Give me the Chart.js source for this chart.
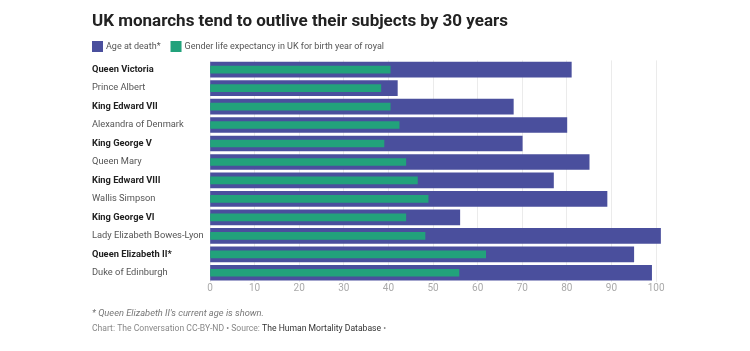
<!DOCTYPE html>
<html>
<head>
<meta charset="utf-8">
<script src="https://cdn.jsdelivr.net/npm/chart.js@4.4.1/dist/chart.umd.min.js"></script>
<style>
  html, body { margin: 0; padding: 0; background: #fff; }
  #wrap { width: 750px; height: 351px; position: relative; }
</style>
</head>
<body>
<div id="wrap"><canvas id="royals"></canvas></div>
<script>
const names = ['Queen Victoria', 'Prince Albert', 'King Edward VII', 'Alexandra of Denmark', 'King George V',
    'Queen Mary', 'King Edward VIII', 'Wallis Simpson', 'King George VI', 'Lady Elizabeth Bowes-Lyon',
    'Queen Elizabeth II*', 'Duke of Edinburgh'];
const monarchs = [true, false, true, false, true, false, true, false, true, false, true, false];
const ageAtDeath = [81, 42, 68, 80, 70, 85, 77, 89, 56, 101, 95, 99];
const lifeExpectancy = [40.4, 38.3, 40.4, 42.4, 39, 43.9, 46.5, 48.9, 43.9, 48.2, 61.8, 55.8];
const xTicks = [0, 10, 20, 30, 40, 50, 60, 70, 80, 90, 100];

const FONT = 'Roboto, "Noto Sans", sans-serif';

document.addEventListener('DOMContentLoaded', () => {
    const ctx = document.getElementById('royals').getContext('2d');

    // legend + footer drawn by hand so they line up with the labels on the left
    const extras = {
        id: 'extras',
        afterDraw(chart) {
            const {ctx} = chart;
            ctx.save();
            ctx.textBaseline = 'middle';
            ctx.textAlign = 'left';

            let x = 92;
            ctx.font = '9px ' + FONT;
            chart.data.datasets.forEach(ds => {
                ctx.fillStyle = ds.backgroundColor;
                ctx.fillRect(x, 41, 11, 11);
                x += 14;
                ctx.fillStyle = '#555';
                ctx.fillText(ds.label, x, 46.5);
                x += ctx.measureText(ds.label).width + 10;
            });

            ctx.fillStyle = '#777';
            ctx.font = 'italic 9.3px ' + FONT;
            ctx.fillText("* Queen Elizabeth II's current age is shown.", 92, 314);
            ctx.font = '8.6px ' + FONT;
            x = 92;
            const parts = [['Chart: The Conversation CC-BY-ND \u2022 Source: ', '#888'], ['The Human Mortality Database', '#333'], [' \u2022', '#888']];
            parts.forEach(([t, c]) => {
                ctx.fillStyle = c;
                ctx.fillText(t, x, 329);
                x += ctx.measureText(t).width;
            });
            ctx.restore();
        }
    };

    new Chart(ctx, {
        type: 'bar',
        data: {
            labels: names,
            datasets: [{
                label: 'Age at death*',
                data: ageAtDeath,
                backgroundColor: '#4a4f9d',
                barThickness: 15,
                grouped: false,
                order: 2
            }, {
                label: 'Gender life expectancy in UK for birth year of royal',
                data: lifeExpectancy,
                backgroundColor: '#22a27b',
                barThickness: 7,
                grouped: false,
                order: 1
            }]
        },
        options: {
            indexAxis: 'y',
            responsive: true,
            maintainAspectRatio: false,
            animation: false,
            layout: {
                padding: {left: 92, right: 85, top: 8, bottom: 57}
            },
            scales: {
                x: {
                    min: 0,
                    max: 102,
                    afterBuildTicks: axis => {
                        axis.ticks = xTicks.map(v => ({value: v}));
                    },
                    grid: {color: '#ebebeb', drawTicks: false},
                    border: {display: false},
                    ticks: {
                        color: '#aaa',
                        padding: 0,
                        font: {family: FONT, size: 10}
                    }
                },
                y: {
                    grid: {display: false},
                    border: {display: false},
                    afterFit: axis => { axis.width = 118; },
                    ticks: {
                        crossAlign: 'far',
                        autoSkip: false,
                        color: c => monarchs[c.index] ? '#222' : '#555',
                        font: c => ({family: FONT, size: 9.3, weight: monarchs[c.index] ? 'bold' : 'normal'})
                    }
                }
            },
            plugins: {
                title: {
                    display: true,
                    text: 'UK monarchs tend to outlive their subjects by 30 years',
                    align: 'start',
                    color: '#222',
                    font: {family: FONT, size: 17, weight: 'bold'},
                    padding: {top: 4, bottom: 28}
                },
                legend: {display: false},
                tooltip: {enabled: false}
            }
        },
        plugins: [extras]
    });
});
</script>
</body>
</html>
